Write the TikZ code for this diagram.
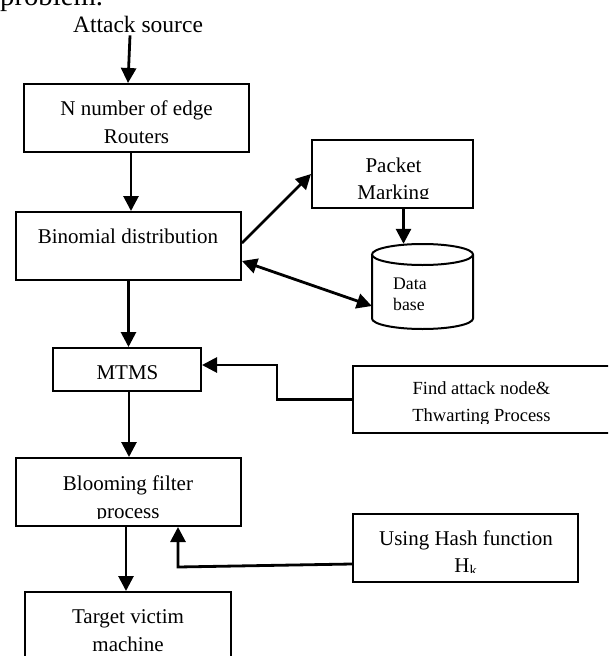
\documentclass[tikz,border=0pt]{standalone}
\usepackage{fontspec}
\setmainfont{Liberation Serif}
\usetikzlibrary{arrows.meta,calc}

\tikzset{
  box/.style={draw, rectangle, line width=2pt, inner sep=0pt},
  lbl/.style={inner sep=0pt, anchor=base, font=\fontsize{21}{28}\selectfont},
  small/.style={inner sep=0pt, anchor=base, font=\fontsize{18.5}{26}\selectfont},
  arr/.style={line width=2.8pt, -{Triangle[length=15pt,width=15pt]}},
  dblarr/.style={line width=2.8pt, {Triangle[length=15pt,width=15pt]}-{Triangle[length=15pt,width=15pt]}},
}

\begin{document}
\begin{tikzpicture}[x=1pt,y=-1pt]
\useasboundingbox (0,0) rectangle (608,656);
\clip (0,0) rectangle (608,656);

% running text of the page above the figure
\node[inner sep=0pt, anchor=base west, font=\fontsize{28.7}{34}\selectfont] (prob) at (0,5) {problem.};

% source label
\node[inner sep=0pt, anchor=base, font=\fontsize{23.5}{28}\selectfont] (src) at (138,32) {Attack source};

% boxes
\node[box, minimum width=225pt, minimum height=68pt] (routers) at (136.5,118) {};
\node[box, minimum width=225pt, minimum height=68pt] (binom)   at (128.5,246) {};
\node[box, minimum width=161pt, minimum height=68pt] (packet)  at (392.5,174) {};
\node[box, minimum width=148pt, minimum height=43pt] (mtms)    at (127,369.5) {};
\node[box, minimum width=258pt, minimum height=67pt] (find)    at (482,399.5) {};
\node[box, minimum width=225pt, minimum height=68pt] (bloom)   at (128.5,492) {};
\node[box, minimum width=225pt, minimum height=68pt] (hash)    at (465.5,548) {};
\node[box, minimum width=206pt, minimum height=90pt] (target)  at (128,637) {};

% database cylinder
\node[inner sep=0pt, minimum width=101pt, minimum height=85pt] (db) at (422.5,286.5) {};
\draw[line width=2pt] (422.5,254.5) ellipse [x radius=50.5, y radius=10.5];
\draw[line width=2pt] (372,254.5) -- (372,318.5)
  .. controls (372,324.3) and (394.6,329) .. (422.5,329)
  .. controls (450.4,329) and (473,324.3) .. (473,318.5) -- (473,254.5);
\node[inner sep=0pt, anchor=base west, font=\fontsize{17.7}{21}\selectfont] (dbA) at (393,289) {Data};
\node[inner sep=0pt, anchor=base west, font=\fontsize{17.7}{21}\selectfont] (dbB) at (393,310) {base};

% box texts, cut off by the inner frame of each box
\begin{scope}
  \clip (routers.north west) rectangle ([yshift=10pt]routers.south east);
  \node[lbl] (routersA) at (136.5,115) {N number of edge};
  \node[lbl] (routersB) at (136.5,143) {Routers};
\end{scope}
\node[lbl] (binomA) at (128,243) {Binomial distribution};
\begin{scope}
  \clip (packet.north west) rectangle ([yshift=11pt]packet.south east);
  \node[lbl] (packetA) at (393.5,172) {Packet};
  \node[lbl] (packetB) at (393.5,199) {Marking};
\end{scope}
\node[lbl] (mtmsA) at (127.5,379) {MTMS};
\begin{scope}
  \clip (find.north west) rectangle ([yshift=11pt]find.south east);
  \node[small] (findA) at (481.5,394) {Find attack node\&};
  \node[small] (findB) at (481.5,421) {Thwarting Process};
\end{scope}
\begin{scope}
  \clip (bloom.north west) rectangle ([yshift=9pt]bloom.south east);
  \node[lbl] (bloomA) at (128,490) {Blooming filter};
  \node[lbl] (bloomB) at (128,518) {process};
\end{scope}
\begin{scope}
  \clip (hash.north west) rectangle ([yshift=11pt]hash.south east);
  \node[lbl] (hashA) at (466,545) {Using Hash function};
  \node[lbl] (hashB) at (466,572) {H\textsubscript{k}};
\end{scope}
\node[lbl] (targetA) at (128,623) {Target victim};
\node[lbl] (targetB) at (128,651) {machine};

% bend points of the feedback connectors
\coordinate (k1) at (277,399.5);
\coordinate (k2) at (178,567);

% connectors
\draw[arr] ([xshift=-8pt,yshift=-3pt]src.south) -- ([xshift=-8.5pt]routers.north);
\draw[arr] ([xshift=-5.5pt]routers.south) -- ([xshift=-5.5pt]routers.south |- binom.north);
\draw[arr] ([yshift=3pt]binom.east) -- (packet.west);
\draw[arr] ([xshift=11pt]packet.south) -- ([xshift=11pt]packet.south |- db.north);
\draw[dblarr] ([yshift=-15pt]binom.east) -- ([yshift=-19.5pt]db.west);
\draw[arr] (binom.south) -- (binom.south |- mtms.north);
\draw[arr] (find.west) -- (k1) |- ([yshift=4.5pt]mtms.east);
\draw[arr] ([xshift=2pt]mtms.south) -- ([xshift=2pt]mtms.south |- bloom.north);
\draw[arr] ([yshift=-16pt]hash.west) -- (k2) -- (k2 |- bloom.south);
\draw[arr] ([xshift=-2.5pt]bloom.south) -- ([xshift=-2.5pt]bloom.south |- target.north);
\end{tikzpicture}
\end{document}
